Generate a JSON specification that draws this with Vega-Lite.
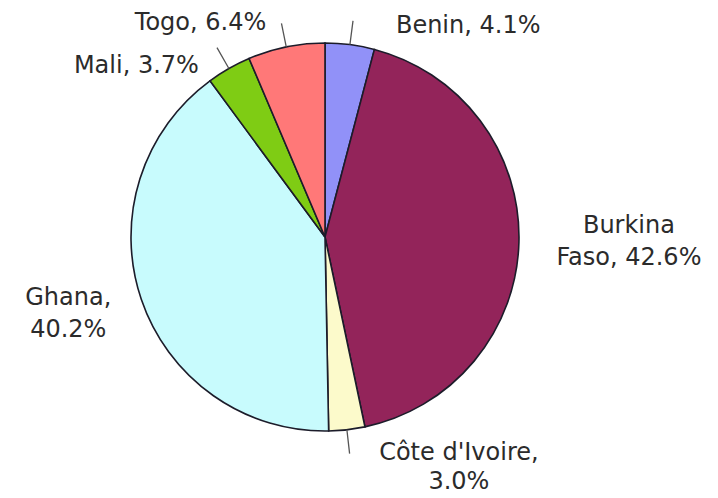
{
  "$schema": "https://vega.github.io/schema/vega-lite/v6.json",
  "autosize": "none",
  "width": 650,
  "height": 474,
  "padding": {"left": 0, "top": 0, "right": 68, "bottom": 24},
  "background": "white",
  "data": {
    "values": [
      {"country": "Benin", "share": 4.1, "label": "Benin, 4.1%"},
      {"country": "Burkina Faso", "share": 42.6, "label": "Burkina\nFaso, 42.6%"},
      {"country": "Côte d'Ivoire", "share": 3.0, "label": "Côte d'Ivoire,\n3.0%"},
      {"country": "Ghana", "share": 40.2, "label": "Ghana,\n40.2%"},
      {"country": "Mali", "share": 3.7, "label": "Mali, 3.7%"},
      {"country": "Togo", "share": 6.4, "label": "Togo, 6.4%"}
    ]
  },
  "encoding": {
    "theta": {"field": "share", "type": "quantitative", "stack": true},
    "order": {"field": "country", "type": "nominal", "sort": "ascending"},
    "detail": {"field": "country", "type": "nominal"}
  },
  "layer": [
    {
      "mark": {"type": "arc", "radius": 194, "stroke": "#1c1c2a", "strokeWidth": 1.6},
      "encoding": {
        "color": {
          "field": "country",
          "type": "nominal",
          "legend": null,
          "scale": {
            "domain": ["Benin", "Burkina Faso", "Côte d'Ivoire", "Ghana", "Mali", "Togo"],
            "range": ["#9191F8", "#93245A", "#FCFACB", "#C8FBFD", "#7FCC14", "#FF7878"]
          }
        }
      }
    },
    {
      "mark": {"type": "arc", "radius": 218, "radius2": 194, "padAngle": 3.14159, "fill": "transparent", "stroke": "#555555", "strokeWidth": 1.3},
      "encoding": {
        "strokeOpacity": {
          "condition": {"test": "datum.country !== 'Ghana' && datum.country !== 'Burkina Faso'", "value": 1},
          "value": 0
        }
      }
    },
    {
      "mark": {"type": "text", "radius": 194, "dx": 46, "dy": -12, "align": "left", "baseline": "alphabetic", "font": "DejaVu Sans", "fontSize": 24, "lineBreak": "\n", "lineHeight": 32},
      "encoding": {
        "color": {"value": "#2b2b2b"},
        "text": {"condition": {"test": "datum.country === 'Benin'", "field": "label"}, "value": ""}
      }
    },
    {
      "mark": {"type": "text", "radius": 194, "dx": 110, "dy": -9, "align": "center", "baseline": "alphabetic", "font": "DejaVu Sans", "fontSize": 24, "lineBreak": "\n", "lineHeight": 32},
      "encoding": {
        "color": {"value": "#2b2b2b"},
        "text": {"condition": {"test": "datum.country === 'Burkina Faso'", "field": "label"}, "value": ""}
      }
    },
    {
      "mark": {"type": "text", "radius": 194, "dx": 112, "dy": 30, "align": "center", "baseline": "alphabetic", "font": "DejaVu Sans", "fontSize": 24, "lineBreak": "\n", "lineHeight": 29},
      "encoding": {
        "color": {"value": "#2b2b2b"},
        "text": {"condition": {"test": "datum.country === \"Côte d'Ivoire\"", "field": "label"}, "value": ""}
      }
    },
    {
      "mark": {"type": "text", "radius": 194, "dx": -73, "dy": 6, "align": "center", "baseline": "alphabetic", "font": "DejaVu Sans", "fontSize": 24, "lineBreak": "\n", "lineHeight": 32},
      "encoding": {
        "color": {"value": "#2b2b2b"},
        "text": {"condition": {"test": "datum.country === 'Ghana'", "field": "label"}, "value": ""}
      }
    },
    {
      "mark": {"type": "text", "radius": 194, "dx": -30, "dy": 5, "align": "right", "baseline": "alphabetic", "font": "DejaVu Sans", "fontSize": 24, "lineBreak": "\n", "lineHeight": 32},
      "encoding": {
        "color": {"value": "#2b2b2b"},
        "text": {"condition": {"test": "datum.country === 'Mali'", "field": "label"}, "value": ""}
      }
    },
    {
      "mark": {"type": "text", "radius": 194, "dx": -20, "dy": -17, "align": "right", "baseline": "alphabetic", "font": "DejaVu Sans", "fontSize": 24, "lineBreak": "\n", "lineHeight": 32},
      "encoding": {
        "color": {"value": "#2b2b2b"},
        "text": {"condition": {"test": "datum.country === 'Togo'", "field": "label"}, "value": ""}
      }
    }
  ],
  "config": {"view": {"stroke": null}}
}
